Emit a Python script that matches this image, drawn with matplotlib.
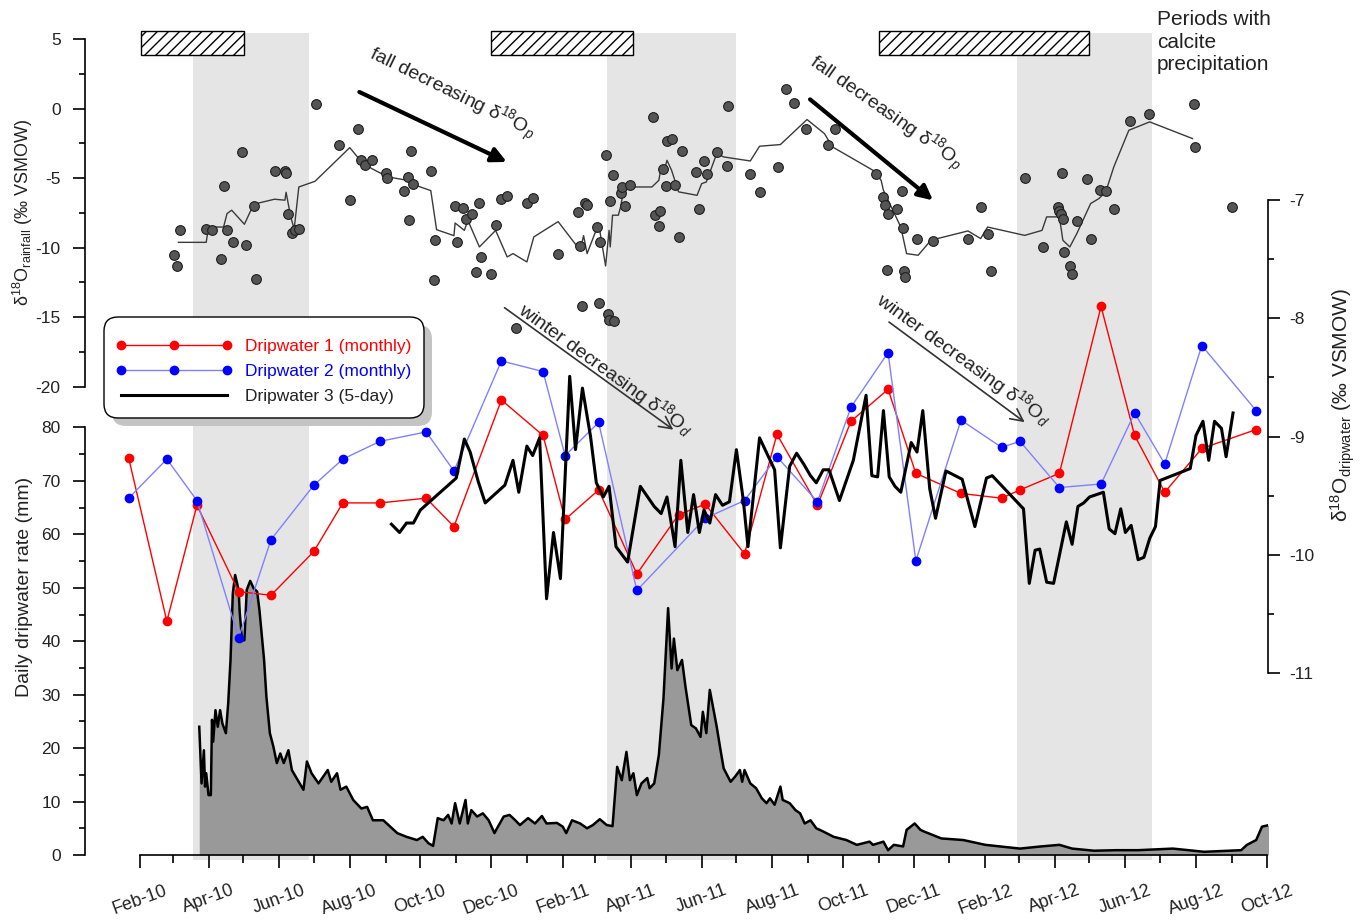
import numpy as np
import pandas as pd
import matplotlib
matplotlib.use('Agg')
import matplotlib.pyplot as plt
import matplotlib.dates as mdates
from matplotlib.patches import Rectangle, FancyBboxPatch
from matplotlib.transforms import IdentityTransform

plt.rcParams['font.family'] = ['Liberation Sans', 'DejaVu Sans']
plt.rcParams['mathtext.fontset'] = 'custom'
plt.rcParams['mathtext.rm'] = 'Liberation Sans'
plt.rcParams['mathtext.it'] = 'Liberation Sans:italic'
plt.rcParams['mathtext.bf'] = 'Liberation Sans:bold'
plt.rcParams['hatch.linewidth'] = 1.0
plt.rcParams['axes.unicode_minus'] = False

# ---------------- data (days since START) ----------------
START = '2010-02-01'

tick_labels = ['Feb-10', 'Apr-10', 'Jun-10', 'Aug-10', 'Oct-10', 'Dec-10', 'Feb-11',
               'Apr-11', 'Jun-11', 'Aug-11', 'Oct-11', 'Dec-11', 'Feb-12', 'Apr-12',
               'Jun-12', 'Aug-12', 'Oct-12']

# rainfall d18O samples
rain_day = [29, 32, 34, 57, 62, 70, 72, 75, 80, 88, 91, 98, 100, 116, 125, 126, 128, 131, 134, 137,
            152, 172, 181, 188, 191, 194, 200, 212, 213, 228, 231, 232, 234, 236, 251, 254, 255, 272, 274, 279,
            281, 287, 290, 293, 294, 303, 307, 312, 317, 325, 334, 339, 361, 378, 380, 382, 384, 386, 395, 396,
            397, 402, 404, 405, 406, 408, 409, 415, 416, 419, 423, 443, 445, 448, 449, 452, 454, 455, 459, 462,
            465, 468, 480, 483, 487, 490, 498, 507, 508, 527, 535, 551, 558, 565, 575, 594, 600, 636, 642, 643,
            646, 645, 654, 658, 659, 660, 661, 671, 685, 715, 726, 732, 735, 764, 780, 793, 794, 795, 797, 796,
            798, 803, 805, 809, 818, 821, 829, 834, 841, 855, 871, 910, 911, 943]
rain_val = [-10.5, -11.35, -8.73, -8.63, -8.76, -10.8, -5.54, -8.76, -9.57, -3.14,
            -9.78, -6.98, -12.28, -4.51, -4.46, -4.6, -7.55, -8.92, -8.71, -8.68,
            0.33, -2.64, -6.6, -1.44, -3.72, -4.05, -3.67, -4.6, -4.99, -5.9,
            -4.94, -7.99, -3.05, -5.42, -4.49, -12.3, -9.47, -7.03, -9.57, -7.17,
            -7.91, -7.6, -11.73, -6.76, -10.7, -11.92, -8.37, -6.5, -6.29, -15.8,
            -6.76, -6.4, -10.43, -7.41, -9.88, -14.17, -6.76, -6.91, -8.52, -14.0,
            -9.57, -3.31, -14.75, -15.18, -6.65, -4.8, -15.28, -6.07, -5.64, -6.98,
            -5.52, -0.6, -7.68, -8.47, -7.39, -4.32, -5.57, -2.35, -2.19, -5.47,
            -9.24, -3.05, -4.55, -7.24, -3.77, -4.68, -3.12, -4.13, 0.17, -4.7,
            -6.02, -4.2, 1.37, 0.43, -1.44, -2.64, -1.47, -4.68, -6.33, -6.91,
            -7.55, -11.63, -7.24, -5.9, -8.56, -11.7, -12.1, -9.38, -9.52, -9.38,
            -7.05, -9.02, -11.7, -4.96, -9.95, -7.08, -7.34, -7.58, -7.91, -4.63,
            -10.32, -11.32, -11.92, -8.06, -5.06, -9.38, -5.83, -5.95, -7.24, -0.89,
            -0.41, 0.33, -2.73, -7.05]

# rainfall running mean
rmean_day = [33, 57, 59, 72, 75, 79, 90, 98, 116, 125, 126, 130, 133, 137, 151, 181, 190, 200, 214, 231,
             238, 251, 256, 271, 272, 280, 283, 293, 307, 317, 322, 334, 340, 361, 380, 383, 386, 396, 402, 405,
             406, 408, 413, 415, 417, 421, 442, 448, 450, 452, 455, 459, 465, 481, 485, 489, 498, 504, 527, 535,
             553, 576, 591, 598, 634, 640, 642, 657, 662, 672, 683, 715, 726, 732, 764, 779, 783, 794, 797, 803,
             809, 821, 828, 834, 841, 854, 872, 909]
rmean_val = [-9.62, -9.62, -8.52, -8.52, -7.55, -7.31, -8.32, -6.88, -6.52, -6.59,
             -6.02, -7.79, -8.66, -5.64, -5.23, -2.81, -3.72, -4.32, -4.92, -5.16,
             -5.52, -5.9, -8.71, -9.14, -8.23, -8.76, -8.04, -9.95, -8.76, -10.67,
             -10.43, -11.03, -9.23, -8.13, -10.19, -9.14, -10.43, -8.28, -11.32, -8.76,
             -9.95, -7.67, -7.67, -7.07, -6.11, -5.64, -5.64, -5.16, -4.2, -4.68,
             -3.72, -4.44, -5.99, -6.24, -5.4, -5.28, -3.24, -3.48, -3.77, -2.71,
             -2.59, -0.79, -1.8, -2.76, -4.49, -5.16, -5.88, -8.52, -10.43, -10.55,
             -9.47, -8.8, -9.35, -8.52, -9.12, -8.76, -7.79, -7.79, -9.47, -9.95,
             -9.0, -6.83, -6.48, -6.0, -4.2, -1.56, -0.96, -2.16]

# dripwater 1 & 2 (monthly)
drip1_day = [-10, 23, 49, 85, 113, 150, 175, 207, 247, 271, 312, 348, 367, 396, 429, 465,
             488, 522, 550, 585, 614, 646, 670, 709, 744, 760, 794, 830, 859, 885, 917, 964]
drip1_val = [-9.18, -10.56, -9.58, -10.31, -10.34, -9.97, -9.56, -9.56, -9.52, -9.76, -8.69,
             -8.99, -9.70, -9.45, -10.16, -9.66, -9.57, -9.99, -8.98, -9.58, -8.87, -8.60,
             -9.31, -9.48, -9.52, -9.45, -9.31, -7.90, -8.99, -9.47, -9.10, -8.94]
drip2_day = [-10, 23, 49, 85, 113, 150, 175, 207, 247, 271, 312, 348, 367, 396, 429,
             488, 522, 550, 585, 614, 646, 670, 709, 744, 760, 794, 830, 859, 885, 917, 964]
drip2_val = [-9.52, -9.19, -9.54, -10.70, -9.87, -9.41, -9.19, -9.04, -8.96, -9.29, -8.36,
             -8.45, -9.16, -8.88, -10.30, -9.69, -9.54, -9.17, -9.55, -8.75, -8.29, -10.05,
             -8.86, -9.09, -9.04, -9.43, -9.40, -8.80, -9.23, -8.23, -8.78]

# dripwater 3 (5-day)
drip3_day = [217, 224, 230, 236, 242, 273, 280, 285, 292, 298, 315, 322, 327, 334, 339, 345, 351, 357,
             363, 371, 376, 382, 389, 394, 400, 405, 411, 421, 432, 444, 450, 455, 462, 467, 473, 478,
             483, 487, 492, 497, 503, 509, 515, 521, 525, 535, 548, 553, 561, 567, 573, 579, 584, 590,
             595, 604, 616, 627, 632, 637, 642, 647, 652, 657, 666, 671, 676, 682, 687, 696, 710, 721,
             731, 736, 763, 768, 773, 777, 783, 789, 800, 805, 810, 815, 820, 832, 837, 842, 847, 851,
             856, 862, 867, 872, 877, 881, 907, 912, 918, 923, 928, 934, 938, 944]
drip3_val = [-9.74, -9.81, -9.73, -9.73, -9.62, -9.35, -9.02, -9.13, -9.38, -9.56,
             -9.41, -9.20, -9.47, -9.08, -9.16, -9.01, -10.37, -9.81, -10.20, -8.49,
             -9.11, -8.59, -9.00, -9.39, -9.51, -9.42, -9.93, -10.06, -9.42, -9.59,
             -9.65, -9.51, -9.93, -9.20, -9.81, -9.49, -9.81, -9.62, -9.73, -9.49,
             -9.58, -9.55, -9.11, -9.54, -9.93, -9.01, -9.28, -9.94, -9.25, -9.14,
             -9.23, -9.33, -9.39, -9.28, -9.28, -9.54, -9.20, -8.65, -9.33, -9.34,
             -8.78, -9.34, -9.42, -9.47, -9.05, -9.13, -8.78, -9.44, -9.69, -9.29,
             -9.36, -9.76, -9.35, -9.33, -9.61, -10.24, -9.96, -9.95, -10.23, -10.24,
             -9.72, -9.91, -9.59, -9.56, -9.51, -9.47, -9.78, -9.82, -9.61, -9.81,
             -9.75, -10.04, -10.02, -9.86, -9.76, -9.37, -9.27, -8.99, -8.87, -9.20,
             -8.87, -8.93, -9.17, -8.80]

# daily dripwater rate (mm)
rate_day = [51, 53, 55, 56, 57, 59, 61, 62, 63, 65, 67, 69, 71, 74, 76, 78, 80, 82, 85, 86,
            88, 90, 92, 95, 98, 101, 103, 107, 109, 112, 115, 118, 121, 124, 128, 131, 135, 141, 144, 148,
            154, 162, 165, 170, 173, 178, 184, 191, 196, 201, 210, 216, 222, 230, 239, 244, 249, 253, 257, 262,
            266, 269, 272, 276, 281, 283, 286, 291, 296, 301, 306, 309, 314, 319, 324, 328, 335, 341, 347, 351,
            360, 365, 368, 373, 380, 386, 391, 397, 403, 408, 412, 416, 420, 423, 426, 429, 433, 438, 440, 444,
            448, 452, 456, 459, 461, 464, 468, 471, 476, 480, 484, 486, 489, 492, 498, 501, 504, 510, 514, 518,
            520, 522, 527, 532, 537, 541, 544, 548, 553, 555, 561, 566, 570, 574, 579, 584, 590, 599, 610, 619,
            630, 633, 642, 646, 651, 659, 662, 669, 674, 677, 692, 711, 730, 760, 778, 794, 805, 824, 843, 862,
            892, 919, 951, 956, 964, 969, 975]
rate_val = [24.0, 13.4, 19.6, 12.8, 15.3, 11.2, 11.2, 25.3, 21.2, 27.1,
            24.0, 27.1, 24.6, 22.8, 28.4, 36.5, 49.0, 52.4, 49.6, 45.2,
            40.2, 40.2, 49.6, 51.3, 49.9, 49.3, 45.8, 36.5, 29.6, 22.8,
            20.3, 17.2, 19.0, 17.2, 19.6, 15.9, 14.4, 12.2, 17.5, 15.3,
            13.4, 15.9, 13.7, 15.3, 12.2, 12.8, 10.3, 8.7, 9.0, 6.5,
            6.5, 5.3, 4.1, 3.4, 2.8, 3.4, 2.2, 1.7, 6.9, 6.5,
            7.5, 5.9, 9.7, 5.9, 10.3, 5.9, 8.4, 7.2, 7.8, 6.5,
            4.1, 5.3, 7.2, 7.5, 6.5, 5.6, 6.9, 5.9, 7.3, 5.9,
            6.0, 5.3, 4.1, 6.5, 5.9, 5.0, 5.6, 6.7, 5.6, 5.4,
            16.5, 14.0, 19.3, 14.0, 15.3, 11.2, 13.4, 14.4, 12.5, 13.4,
            18.7, 29.3, 46.2, 34.9, 40.5, 34.6, 36.5, 31.5, 24.3, 23.7,
            22.1, 26.8, 22.8, 30.9, 24.0, 20.0, 16.2, 13.7, 14.7, 15.9,
            13.7, 15.9, 13.4, 12.5, 10.6, 9.7, 10.6, 9.4, 12.8, 10.3,
            9.7, 8.4, 7.8, 5.9, 6.5, 5.0, 4.4, 3.4, 2.8, 1.9,
            2.5, 1.9, 2.5, 0.9, 1.9, 1.6, 4.7, 5.9, 4.7, 4.4,
            3.1, 2.8, 1.9, 1.2, 1.6, 1.9, 1.2, 0.8, 0.9, 0.9,
            1.2, 0.6, 0.9, 1.9, 2.8, 5.3, 5.6]

# periods (grey bands) and calcite precipitation periods (hatched boxes)
shade_start = [46, 403, 757]
shade_end = [146, 515, 874]
calcite_start = [1, 303, 638]
calcite_end = [90, 426, 820]

# ---------------- helpers ----------------
BASE = mdates.date2num(np.datetime64(START))


def to_num(d):
    return BASE + np.asarray(d, dtype=float)


W, H = 1364, 923
L, R, T, B = 85, 1268, 33, 860


def ylim_from(v1, p1, v2, p2):
    k = (v2 - v1) / (p2 - p1)
    return v1 + (B - p1) * k, v1 + (T - p1) * k


fig = plt.figure(figsize=(W / 100, H / 100), dpi=100)
rect = [L / W, 1 - B / H, (R - L) / W, (B - T) / H]
ax_rate = fig.add_axes(rect)
ax_drip = fig.add_axes(rect, sharex=ax_rate)
ax_rain = fig.add_axes(rect, sharex=ax_rate)
for a in (ax_drip, ax_rain):
    a.patch.set_visible(False)
    a.xaxis.set_visible(False)

ax_rate.set_xlim(to_num(-47.7), to_num(974.2))
ax_rate.set_ylim(*ylim_from(0, 855, 80, 427.5))
ax_rain.set_ylim(*ylim_from(5, 39, -20, 386.7))
ax_drip.set_ylim(*ylim_from(-7, 200, -11, 673.3))

TXT = '#222222'

# shaded bands
for s, e in zip(shade_start, shade_end):
    ax_rate.axvspan(to_num(s), to_num(e), color='#e5e5e5', lw=0, zorder=0)

# daily rate
ax_rate.fill_between(to_num(rate_day), rate_val, 0, color='#999999', lw=0, zorder=1)
ax_rate.plot(to_num(rate_day), rate_val, color='black', lw=1.8, zorder=2)

# dripwater series
l1, = ax_drip.plot(to_num(drip1_day), drip1_val, color='red', lw=1.0, marker='o', ms=6,
                   mfc='red', mec='red', label='Dripwater 1 (monthly)', zorder=3)
l2, = ax_drip.plot(to_num(drip2_day), drip2_val, color='#8080ff', lw=1.0, marker='o', ms=6,
                   mfc='#0000ff', mec='#0000ff', label='Dripwater 2 (monthly)', zorder=3)
l3, = ax_drip.plot(to_num(drip3_day), drip3_val, color='black', lw=2.2,
                   label='Dripwater 3 (5-day)', zorder=4)

# rainfall
ax_rain.plot(to_num(rmean_day), rmean_val, color='#3a3a3a', lw=1.0, zorder=3)
ax_rain.plot(to_num(rain_day), rain_val, ls='none', marker='o', ms=7,
             mfc='#555555', mec='#1e1e1e', mew=0.8, zorder=4)

# calcite precipitation boxes
for s, e in zip(calcite_start, calcite_end):
    ax_rain.add_patch(Rectangle((to_num(s), 3.83), e - s, 5.56 - 3.83, facecolor='white',
                                edgecolor='black', hatch='///', lw=1.0, clip_on=False, zorder=5))

# ---------------- axes styling ----------------
ax_rate.spines[['top', 'right']].set_visible(False)
ax_rate.spines['left'].set_bounds(0, 80)
major = mdates.date2num(pd.date_range(START, '2012-10-01', freq='2MS').to_pydatetime())
minor = mdates.date2num(pd.date_range(START, '2012-10-01', freq='MS').to_pydatetime())
ax_rate.spines['bottom'].set_bounds(major[0], major[-1])
ax_rate.spines['bottom'].set_position(('data', 0))
ax_rate.set_xticks(major)
ax_rate.set_xticklabels(tick_labels, rotation=20, ha='center')
ax_rate.set_xticks(minor, minor=True)
ax_rate.set_yticks(np.arange(0, 81, 10))
ax_rate.set_yticks(np.arange(5, 80, 10), minor=True)

ax_rain.spines[['top', 'right', 'bottom']].set_visible(False)
ax_rain.spines['left'].set_bounds(-20, 5)
ax_rain.set_yticks(np.arange(-20, 6, 5))
ax_rain.set_yticks(np.arange(-17.5, 5, 5), minor=True)

ax_drip.spines[['top', 'left', 'bottom']].set_visible(False)
ax_drip.spines['right'].set_bounds(-11, -7)
ax_drip.yaxis.tick_right()
ax_drip.set_yticks(np.arange(-11, -6.5, 1))
ax_drip.set_yticks(np.arange(-10.5, -7, 1), minor=True)

for a in (ax_rate, ax_rain, ax_drip):
    for sp in a.spines.values():
        sp.set_linewidth(1.2)
    a.tick_params(axis='y', which='major', length=8.6, width=1.2, labelsize=12.5,
                  labelcolor=TXT, pad=9)
    a.tick_params(axis='y', which='minor', length=4, width=1.2)
ax_drip.tick_params(axis='y', which='major', pad=7)
ax_rate.tick_params(axis='x', which='major', length=9.4, width=1.2, labelsize=13,
                    labelcolor=TXT, pad=10)
ax_rate.tick_params(axis='x', which='minor', length=5.5, width=1.2)

# axis labels
fig.text(23 / W, 1 - 212 / H, 'δ$^{18}$O$_{\\mathrm{rainfall}}$ (‰ VSMOW)', rotation=90,
         ha='center', va='center', fontsize=13, color=TXT)
fig.text(25 / W, 1 - 587 / H, 'Daily dripwater rate (mm)', rotation=90,
         ha='center', va='center', fontsize=14, color=TXT)
fig.text(1343 / W, 1 - 405 / H, 'δ$^{18}$O$_{\\mathrm{dripwater}}$ (‰ VSMOW)', rotation=90,
         ha='center', va='center', fontsize=15, color=TXT)

fig.text(1157 / W, 1 - 10 / H, 'Periods with\ncalcite\nprecipitation', ha='left', va='top',
         fontsize=15, color=TXT, linespacing=1.25)

# annotations (rain-axis data coordinates)
ax_rain.annotate('', xy=(to_num(316.6), -3.84), xytext=(to_num(189.3), 1.19),
                 arrowprops=dict(arrowstyle='-|>', lw=3, color='black', mutation_scale=22,
                                 shrinkA=0, shrinkB=0))
ax_rain.annotate('', xy=(to_num(684.8), -6.6), xytext=(to_num(578.6), 0.66),
                 arrowprops=dict(arrowstyle='-|>', lw=3, color='black', mutation_scale=22,
                                 shrinkA=0, shrinkB=0))
ax_rain.annotate('', xy=(to_num(460.5), -23.09), xytext=(to_num(314.7), -14.32),
                 arrowprops=dict(arrowstyle='->', lw=1.2, color='#333333', mutation_scale=22,
                                 shrinkA=0, shrinkB=0))
ax_rain.annotate('', xy=(to_num(764), -22.55), xytext=(to_num(646.8), -15.35),
                 arrowprops=dict(arrowstyle='->', lw=1.2, color='#333333', mutation_scale=22,
                                 shrinkA=0, shrinkB=0))
ax_rain.text(to_num(269.3), 1.1, 'fall decreasing δ$^{18}$O$_{p}$', rotation=-26,
             rotation_mode='anchor', ha='center', va='center', fontsize=14, color=TXT)
ax_rain.text(to_num(644.2), -0.34, 'fall decreasing δ$^{18}$O$_{p}$', rotation=-35,
             rotation_mode='anchor', ha='center', va='center', fontsize=14, color=TXT)
ax_rain.text(to_num(402.4), -18.76, 'winter decreasing δ$^{18}$O$_{d}$', rotation=-36,
             rotation_mode='anchor', ha='center', va='center', fontsize=14, color=TXT)
ax_rain.text(to_num(711.2), -18.0, 'winter decreasing δ$^{18}$O$_{d}$', rotation=-36,
             rotation_mode='anchor', ha='center', va='center', fontsize=14, color=TXT)

# legend with shadowed rounded frame
idt = IdentityTransform()
fig.add_artist(FancyBboxPatch((112, H - 426), 320, 101, boxstyle='round,pad=0,rounding_size=14',
                              transform=idt, facecolor='#c4c4c4', edgecolor='none', zorder=3))
fig.add_artist(FancyBboxPatch((104, H - 418), 320, 101, boxstyle='round,pad=0,rounding_size=14',
                              transform=idt, facecolor='white', edgecolor='black', lw=1.0, zorder=4))
leg = fig.legend([l1, l2, l3], [l1.get_label(), l2.get_label(), l3.get_label()],
                 loc='upper left', bbox_to_anchor=(116 / W, 1 - 339 / H), frameon=False,
                 numpoints=3, handlelength=6.7, handletextpad=0.75, fontsize=12.5,
                 labelspacing=0.56, borderpad=0, borderaxespad=0)
leg.set_zorder(6)
for t, c in zip(leg.get_texts(), ['red', 'blue', TXT]):
    t.set_color(c)

fig.savefig('out.png', dpi=100)
